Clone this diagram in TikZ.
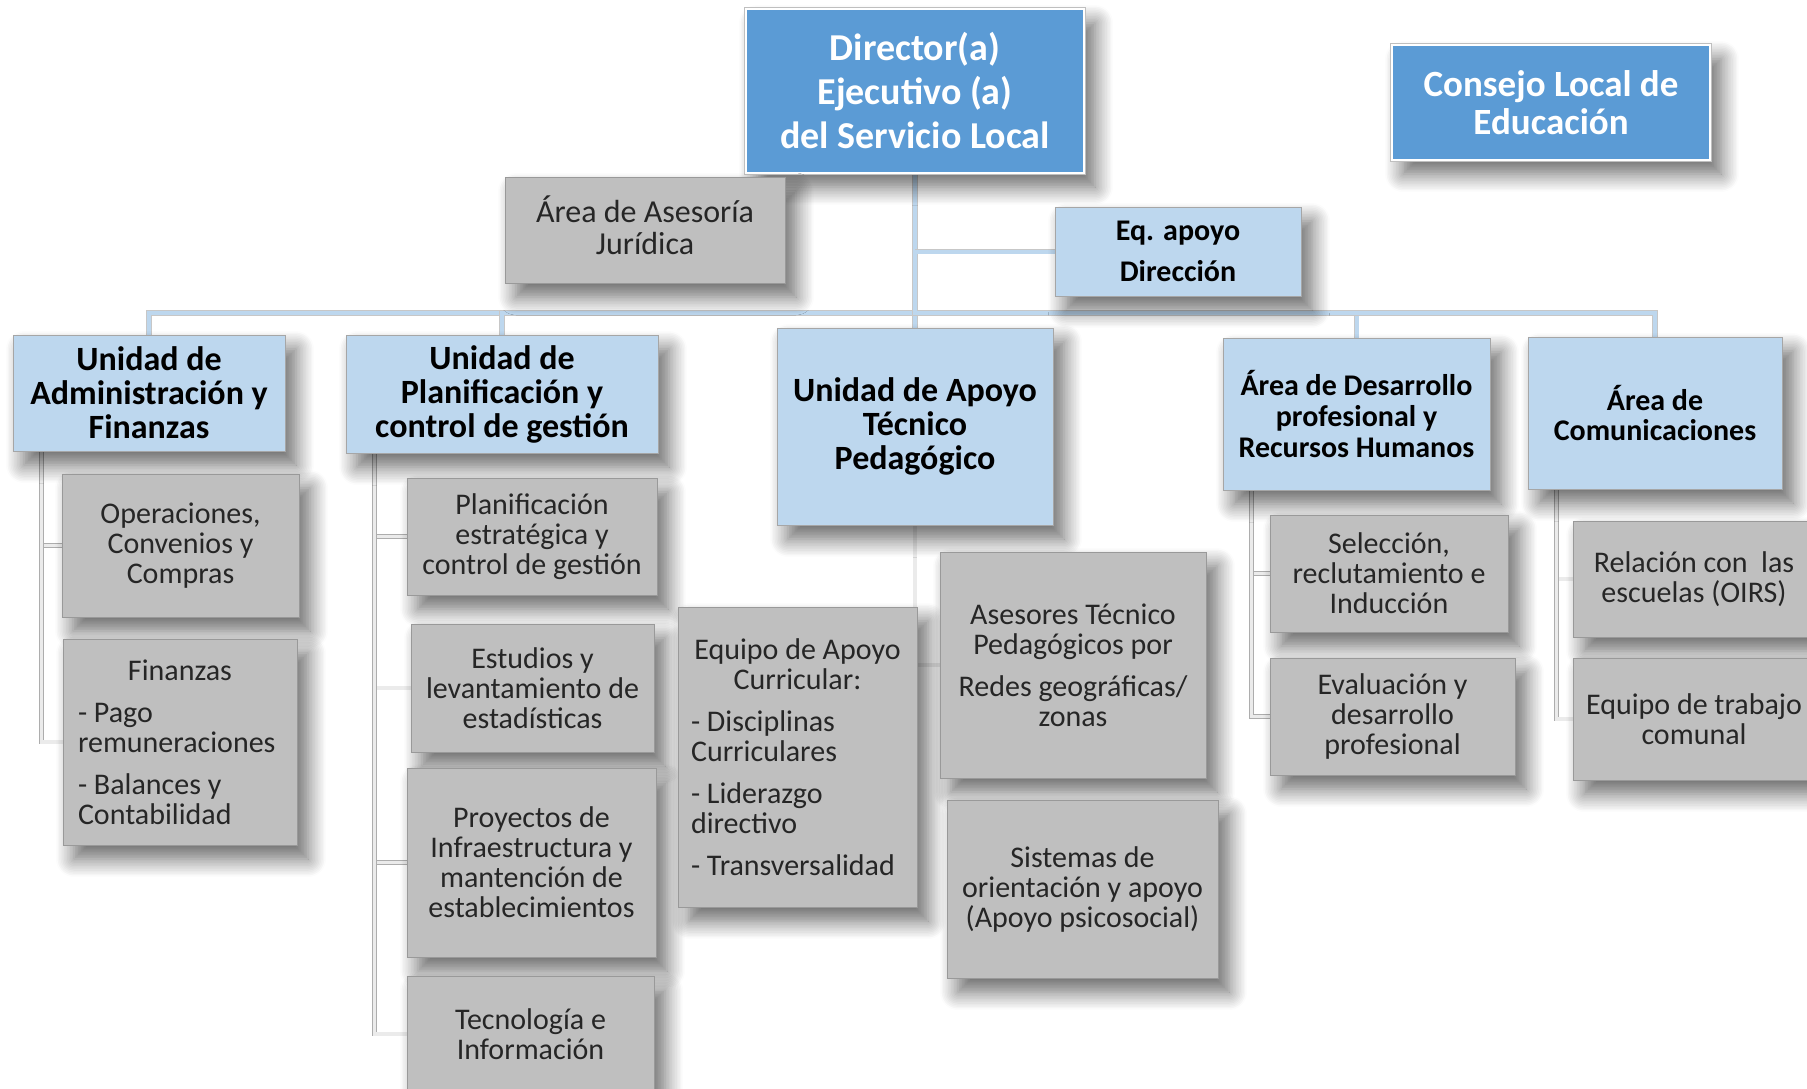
\documentclass[tikz,border=0pt]{standalone}
\usepackage{fontspec}
\setmainfont{Carlito}
\usepackage{xcolor}
\usepackage{tikz}
\usetikzlibrary{backgrounds,shadows.blur}
\definecolor{dirblue}{HTML}{5B9BD5}
\definecolor{unitblue}{HTML}{BDD7EE}
\definecolor{subgrey}{HTML}{BFBFBF}
\tikzset{boxsize/.style n args={2}{minimum width=#1*0.5pt, minimum height=#2*0.5pt}}
\tikzset{
  boxshadow/.style     = {blur shadow={shadow xshift=5.5pt, shadow yshift=-7pt,
                          shadow blur radius=9pt, shadow blur steps=12, shadow opacity=60}},
  dirbox/.style        = {rectangle, boxshadow, preaction={draw=black!25, line width=2.2pt},
                          fill=dirblue, draw=white, line width=1.4pt, inner sep=0pt,
                          text=white, align=center,
                          font=\bfseries\fontsize{19}{22}\selectfont},
  unitbox/.style       = {rectangle, boxshadow, fill=unitblue, draw=black!35, line width=0.5pt,
                          inner sep=0pt, align=center,
                          font=\bfseries\fontsize{17}{17}\selectfont},
  smallhead/.style     = {font=\bfseries\fontsize{15}{15.3}\selectfont},
  subbox/.style        = {rectangle, boxshadow, fill=subgrey, draw=black!40, line width=0.5pt,
                          inner sep=0pt, align=center, text=black!85,
                          font=\fontsize{15}{15}\selectfont},
  listbox/.style       = {align=left},
}
\tikzset{
  busline/.style = {draw=black!22, line width=0.4pt, double=unitblue, double distance=2pt},
  subline/.style = {draw=black!32, line width=0.4pt, double=black!8, double distance=1.6pt},
}

\begin{document}
\begin{tikzpicture}[x=0.5pt, y=-0.5pt]
  \path[use as bounding box, clip] (0,0) rectangle (1807,1088);

  % direction
  \node[dirbox, boxsize={338}{164}] (dir) at (915,91) {Director(a)\\Ejecutivo (a)\\del Servicio Local};
  \node[dirbox, font=\bfseries\fontsize{18.5}{19}\selectfont, boxsize={318}{115}] (cle) at (1551,102.5) {Consejo Local de\\Educación};
  \node[subbox, font=\fontsize{16}{16}\selectfont, text depth=4.8pt, boxsize={280}{106}] (jur) at (645,230) {Área de Asesoría\\Jurídica};
  \node[unitbox, smallhead, boxsize={246}{89}] (eqa) at (1178,251.5) {Eq. apoyo\\[5.5pt]Dirección};

  % units
  \node[unitbox, boxsize={272}{116}] (uaf) at (149,393) {Unidad de\\Administración y\\Finanzas};
  \node[unitbox, boxsize={312}{118}] (upg) at (502,394) {Unidad de\\Planificación y\\control de gestión};
  \node[unitbox, boxsize={276}{197}] (uatp) at (915,426.5) {Unidad de Apoyo\\Técnico\\Pedagógico};
  \node[unitbox, smallhead, boxsize={267}{152}] (adp) at (1356.5,414) {Área de Desarrollo\\profesional y\\Recursos Humanos};
  \node[unitbox, smallhead, boxsize={254}{152}] (com) at (1655,413) {Área de\\Comunicaciones};

  % sub-units
  \node[subbox, boxsize={237}{143}] (ops) at (180.5,545.5) {Operaciones,\\Convenios y\\Compras};
  \node[subbox, listbox, boxsize={234}{206}] (fin) at (180,742)
    {\makebox[102pt]{Finanzas}\\[6pt]
     - Pago\\remuneraciones\\[6pt]
     - Balances y\\Contabilidad};
  \node[subbox, boxsize={250}{117}] (pe) at (532,536.5) {Planificación\\estratégica y\\control de gestión};
  \node[subbox, boxsize={243}{128}] (est) at (532.5,688) {Estudios y\\levantamiento de\\estadísticas};
  \node[subbox, boxsize={249}{189}] (pro) at (531.5,862.5) {Proyectos de\\Infraestructura y\\mantención de\\establecimientos};
  \node[subbox, boxsize={247}{116}] (tec) at (530.5,1034) {Tecnología e\\Información};
  \node[subbox, listbox, boxsize={239}{300}] (eac) at (797.5,757)
    {\makebox[106.5pt]{Equipo de Apoyo}\\\makebox[106.5pt]{Curricular:}\\[6pt]
     - Disciplinas\\Curriculares\\[6pt]
     - Liderazgo\\directivo\\[6pt]
     - Transversalidad};
  \node[subbox, boxsize={266}{226}] (ase) at (1073,665) {Asesores Técnico\\Pedagógicos por\\[6pt]Redes geográficas/\\zonas};
  \node[subbox, boxsize={271}{178}] (sis) at (1082.5,889) {Sistemas de\\orientación y apoyo\\(Apoyo psicosocial)};
  \node[subbox, boxsize={238}{117}] (sel) at (1389,573.5) {Selección,\\reclutamiento e\\Inducción};
  \node[subbox, boxsize={245}{117}] (eva) at (1392.5,716.5) {Evaluación y\\desarrollo\\profesional};
  \node[subbox, boxsize={242}{116}] (rel) at (1694,579) {Relación con\ \ las\\escuelas (OIRS)};
  \node[subbox, boxsize={242}{122}] (etc) at (1694,719) {Equipo de trabajo\\comunal};

  \begin{scope}[on background layer]
    \coordinate (bus) at (0,313);
    \foreach \u in {uaf,upg,uatp,adp,com}
      \draw[busline] (dir.south) -- (dir.south |- bus) -| (\u.north);
    \draw[busline] (dir.south |- eqa.west) -- (eqa.west);
    \foreach \p/\c in {uaf/ops,uaf/fin,upg/pe,upg/est,upg/pro,upg/tec,adp/sel,adp/eva,com/rel,com/etc}
      \draw[subline] ([xshift=14.5pt]\p.south west) |- (\c.west);
    \draw[subline] (uatp.south) |- (ase.west);
  \end{scope}
\end{tikzpicture}
\end{document}
